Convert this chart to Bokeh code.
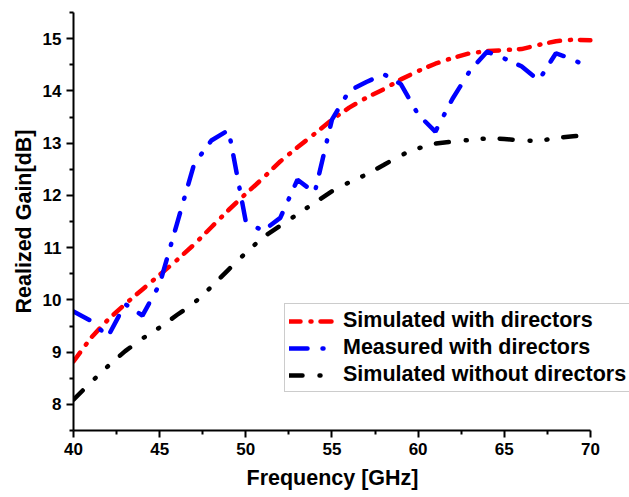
from bokeh.plotting import figure
from bokeh.models import Legend, LegendItem, Range1d, FixedTicker, Title
from bokeh.embed import file_html
from bokeh.resources import INLINE

# ---- data ----
freq_sim = [40, 41, 42, 43, 44, 45, 46, 47, 48, 49, 50, 51, 52, 53, 54, 55,
            56, 57, 58, 59, 60, 61, 62, 63, 64, 65, 66, 67, 68, 69, 70]
gain_sim_with = [8.82, 9.27, 9.62, 9.92, 10.2, 10.48, 10.76, 11.06, 11.39, 11.72,
                 12.03, 12.33, 12.65, 12.92, 13.18, 13.45, 13.68, 13.87, 14.03,
                 14.22, 14.38, 14.52, 14.63, 14.72, 14.76, 14.78, 14.8, 14.88,
                 14.95, 14.98, 14.97]
gain_sim_without = [8.09, 8.42, 8.73, 9.02, 9.26, 9.47, 9.71, 9.94, 10.25, 10.58,
                    10.9, 11.2, 11.42, 11.64, 11.86, 12.08, 12.25, 12.4, 12.58,
                    12.77, 12.9, 12.99, 13.03, 13.06, 13.09, 13.08, 13.05, 13.04,
                    13.1, 13.13, 13.16]
freq_meas = [40, 41, 42, 43, 44, 45, 46, 47, 48, 49, 50, 51, 52, 53, 54, 55,
             56, 57, 58, 59, 60, 61, 62, 63, 64, 65, 66, 67, 68, 69, 69.7]
gain_meas_with = [9.78, 9.6, 9.3, 9.92, 9.7, 10.3, 11.45, 12.6, 13.05, 13.25,
                  11.5, 11.32, 11.57, 12.3, 12.05, 13.45, 14.0, 14.17, 14.32,
                  14.13, 13.55, 13.22, 13.85, 14.38, 14.75, 14.62, 14.47, 14.2,
                  14.72, 14.6, 14.48]

x_major = [40, 45, 50, 55, 60, 65, 70]
x_minor = [42.5, 47.5, 52.5, 57.5, 62.5, 67.5]
y_major = [8, 9, 10, 11, 12, 13, 14, 15]
y_minor = [7.5, 8.5, 9.5, 10.5, 11.5, 12.5, 13.5, 14.5, 15.5]

series_labels = ["Simulated with directors", "Measured with directors",
                 "Simulated without directors"]
x_title = "Frequency [GHz]"
y_title = "Realized Gain[dB]"

FONT = "Liberation Sans"

# frame runs to the right window edge; the x axis itself stops at 70
p = figure(width=629, height=497, x_range=Range1d(40, 72.27), y_range=Range1d(7.5, 15.5),
           output_backend="svg", toolbar_location=None,
           min_border_left=73, min_border_right=0, min_border_top=12,
           min_border_bottom=67)
p.xgrid.visible = False
p.ygrid.visible = False
p.outline_line_color = None
p.background_fill_color = "white"

p.xaxis.ticker = FixedTicker(ticks=x_major, minor_ticks=x_minor)
p.yaxis.ticker = FixedTicker(ticks=y_major, minor_ticks=y_minor)
p.xaxis.bounds = (40, 70)
p.yaxis.axis_label = y_title

for ax in (p.xaxis[0], p.yaxis[0]):
    ax.axis_line_width = 2
    ax.axis_line_color = "black"
    ax.major_tick_line_width = 2
    ax.minor_tick_line_width = 2
    ax.major_tick_line_color = "black"
    ax.minor_tick_line_color = "black"
    ax.major_tick_out = 7
    ax.major_tick_in = 0
    ax.minor_tick_out = 4
    ax.minor_tick_in = 0
    ax.major_label_text_font = FONT
    ax.major_label_text_font_style = "bold"
    ax.major_label_text_font_size = "17px"
    ax.major_label_text_color = "black"
    ax.major_label_standoff = 5
    ax.axis_label_text_font = FONT
    ax.axis_label_text_font_style = "bold"
    ax.axis_label_text_font_size = "21.5px"
    ax.axis_label_text_color = "black"

p.yaxis.axis_label_standoff = 4

# x axis title, centred under the 40..70 span of the axis
xt = Title(text=x_title, align="left", offset=173, standoff=12,
           text_font=FONT, text_font_style="bold", text_font_size="21.5px",
           text_color="black")
p.add_layout(xt, "below")

r_red = p.line(freq_sim, gain_sim_with, line_color="#ff0000", line_width=4.5,
               line_dash="11 10 1 9", line_cap="round")
r_blue = p.line(freq_meas, gain_meas_with, line_color="#0000ff", line_width=4.5,
                line_dash="18 15 1 14", line_cap="round")
r_black = p.line(freq_sim, gain_sim_without, line_color="black", line_width=4.5,
                 line_dash="13 17 1 16 1 16", line_cap="round")

legend = Legend(items=[LegendItem(label=series_labels[0], renderers=[r_red]),
                       LegendItem(label=series_labels[1], renderers=[r_blue]),
                       LegendItem(label=series_labels[2], renderers=[r_black])],
                location=(211, 38))
legend.glyph_width = 45
legend.glyph_height = 24
legend.label_height = 24
legend.label_standoff = 9
legend.padding = 4
legend.spacing = 2
legend.margin = 0
legend.border_line_color = "#999999"
legend.border_line_width = 1.5
legend.background_fill_color = "white"
legend.background_fill_alpha = 1
legend.label_text_font = FONT
legend.label_text_font_style = "bold"
legend.label_text_font_size = "21.5px"
legend.label_text_color = "black"
p.add_layout(legend)

open("out.html", "w").write(file_html(p, INLINE))
